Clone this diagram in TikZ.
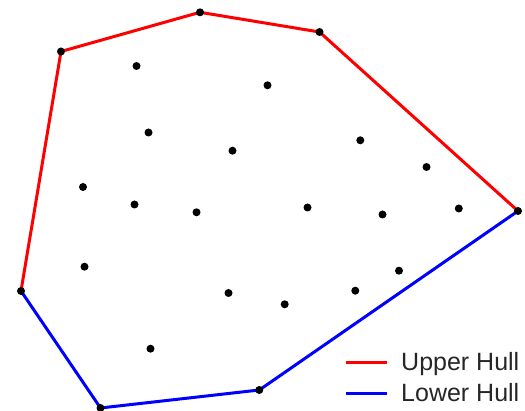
\documentclass[tikz,border=0pt]{standalone}
\usepackage{fontspec}
\setmainfont{Liberation Sans}
\definecolor{txt}{HTML}{262626}
\tikzset{
  pt/.style={circle,fill=black,inner sep=0pt,minimum size=8pt},
  upper/.style={red,line width=3pt,line join=round},
  lower/.style={blue,line width=3pt,line join=round},
  lab/.style={anchor=base west,inner sep=0pt,text=txt,font=\fontsize{25}{30}\selectfont}
}
\begin{document}
\begin{tikzpicture}[x=1pt,y=-1pt]
\useasboundingbox (0,0) rectangle (525,411);
% hull points
\coordinate (h1) at (21,291);
\coordinate (h2) at (61,51.5);
\coordinate (h3) at (200,12.3);
\coordinate (h4) at (319.5,32);
\coordinate (h5) at (518,211);
\coordinate (h6) at (259.3,390);
\coordinate (h7) at (100.5,408);
\draw[upper] (h1) -- (h2) -- (h3) -- (h4) -- (h5);
\draw[lower] (h1) -- (h7) -- (h6) -- (h5);
\foreach \n in {h1,h2,h3,h4,h5,h6,h7} \node[pt] at (\n) {};
% interior points
\foreach \x/\y [count=\i] in {136.5/66, 267.5/85.3, 148.5/132.5, 232.5/150.7, 360.3/140.3, 426.5/167,
  83/187, 134.5/204.5, 196.5/212.3, 307.5/207.5, 382.5/214.5, 458.8/208.5,
  84.5/266.7, 399/270.7, 228.5/293, 284.7/304.3, 355.3/290.7, 150.5/348.7}
  \node[pt] (p\i) at (\x,\y) {};
% legend
\coordinate (ru1) at (345.5,362.3);
\coordinate (ru2) at (386.5,362.3);
\coordinate (bl1) at (345.5,394);
\coordinate (bl2) at (386.5,394);
\draw[upper] (ru1) -- (ru2);
\draw[lower] (bl1) -- (bl2);
\node[lab] (lu) at (401,370.7) {Upper Hull};
\node[lab] (ll) at (401,402) {Lower Hull};
\end{tikzpicture}
\end{document}
